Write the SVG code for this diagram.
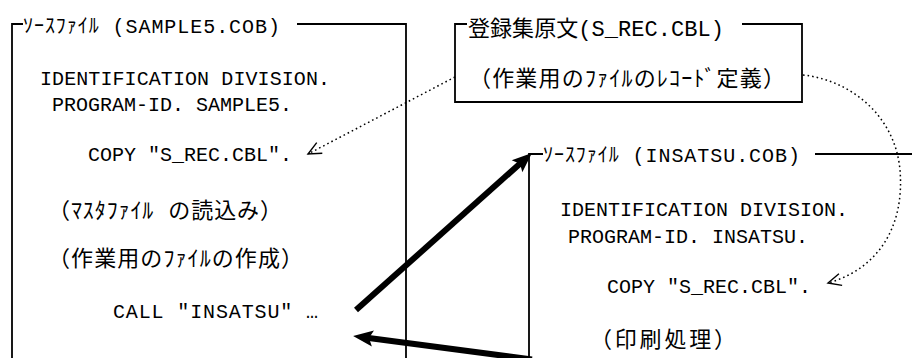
<svg xmlns="http://www.w3.org/2000/svg" width="912" height="358" viewBox="0 0 912 358">
<style>
.t{font-family:"Liberation Mono","Noto Sans CJK JP",monospace;font-size:20px;fill:#000}
.j{font-size:22px}
.box{fill:none;stroke:#000;stroke-width:1.8}
.dot{fill:none;stroke:#000;stroke-width:1.5;stroke-dasharray:1.6 3}
.thick{fill:none;stroke:#000;stroke-width:6}
</style>
<defs>
<marker id="open" markerUnits="userSpaceOnUse" markerWidth="30" markerHeight="30" viewBox="-20 -15 30 30" refX="0" refY="0" orient="auto">
<path d="M -13 -6 L 0 0 L -13 6" fill="none" stroke="#000" stroke-width="1.4"/>
</marker>
<marker id="solid" markerUnits="userSpaceOnUse" markerWidth="40" markerHeight="40" viewBox="-20 -20 40 40" refX="0" refY="0" orient="auto">
<path d="M 12 0 L -8 -8 L -4 0 L -8 8 Z" fill="#000"/>
</marker>
</defs>
<rect width="912" height="358" fill="#fff"/>

<g id="src-sample5">
<path class="box" d="M 23 24 H 12 V 358 M 297 24 H 406 V 358"/>
<text class="t" x="23" y="33" textLength="257">ｿｰｽﾌｧｲﾙ (SAMPLE5.COB)</text>
<text class="t" x="40" y="85" textLength="290">IDENTIFICATION DIVISION.</text>
<text class="t" x="52" y="111" textLength="240">PROGRAM-ID. SAMPLE5.</text>
<text class="t" x="88" y="161" textLength="204">COPY "S_REC.CBL".</text>
<text class="t j" x="48" y="218" textLength="234">（ﾏｽﾀﾌｧｲﾙ の読込み）</text>
<text class="t j" x="48" y="266" textLength="255">（作業用のﾌｧｲﾙの作成）</text>
<text class="t" x="113" y="318" textLength="205">CALL "INSATSU" …</text>
</g>

<g id="copybook">
<path class="box" d="M 467 24 H 455 V 102 H 802 V 24 H 742"/>
<text class="t j" x="468" y="36" textLength="256">登録集原文(S_REC.CBL)</text>
<text class="t j" x="469" y="86" textLength="316">（作業用のﾌｧｲﾙのﾚｺｰﾄﾞ定義）</text>
</g>

<g id="src-insatsu">
<path class="box" d="M 543 154 H 529 V 358 M 815 154 H 912"/>
<text class="t" x="543" y="162" textLength="257">ｿｰｽﾌｧｲﾙ (INSATSU.COB)</text>
<text class="t" x="560" y="216" textLength="288">IDENTIFICATION DIVISION.</text>
<text class="t" x="568" y="243" textLength="240">PROGRAM-ID. INSATSU.</text>
<text class="t" x="607" y="293" textLength="204">COPY "S_REC.CBL".</text>
<text class="t j" x="590" y="347" textLength="146">（印刷処理）</text>
</g>

<g id="connectors">
<path class="dot" d="M 455 77 L 308 154" marker-end="url(#open)"/>
<path class="dot" d="M 803 75 C 850 80 895 115 900 170 C 905 230 875 270 828 283" marker-end="url(#open)"/>
<path class="thick" d="M 356 310 L 523 161" marker-end="url(#solid)"/>
<path class="thick" d="M 532 359.5 L 365 337.5" marker-end="url(#solid)"/>
</g>
</svg>
